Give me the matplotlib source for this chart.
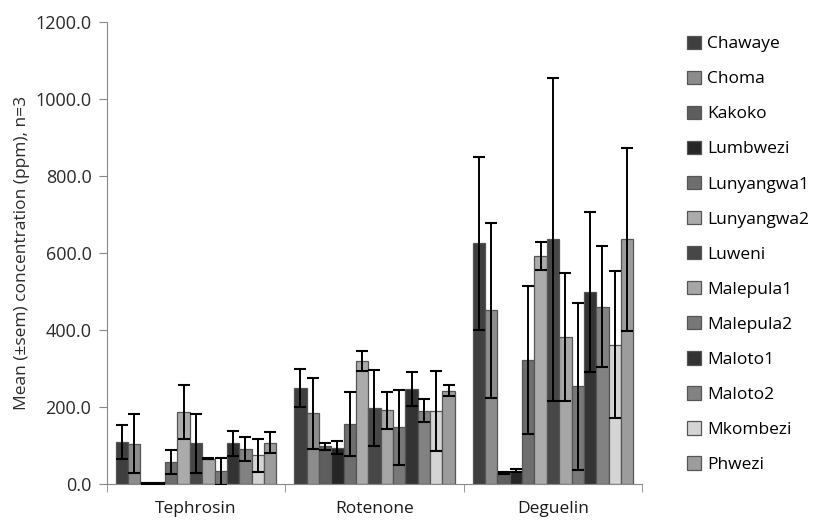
import matplotlib
matplotlib.use('Agg')
import matplotlib.pyplot as plt
import numpy as np

# data
compounds = ['Tephrosin', 'Rotenone', 'Deguelin']
sites = ['Chawaye', 'Choma', 'Kakoko', 'Lumbwezi', 'Lunyangwa1', 'Lunyangwa2',
         'Luweni', 'Malepula1', 'Malepula2', 'Maloto1', 'Maloto2', 'Mkombezi', 'Phwezi']

tephrosin = [110, 105, 2, 1, 58, 187, 106, 66, 33, 106, 91, 75, 108]
tephrosin_err = [44, 76, 1, 1, 31, 70, 77, 2, 35, 32, 32, 43, 28]

rotenone = [250, 184, 98, 95, 156, 319, 198, 192, 147, 247, 191, 190, 243]
rotenone_err = [50, 92, 10, 16, 84, 26, 99, 48, 98, 43, 29, 103, 15]

deguelin = [625, 451, 28, 35, 322, 593, 635, 382, 254, 498, 460, 362, 635]
deguelin_err = [224, 228, 3, 3, 192, 36, 420, 165, 217, 208, 157, 191, 237]

colors = ['#3f3f3f', '#8c8c8c', '#5e5e5e', '#262626', '#6e6e6e', '#ababab',
          '#474747', '#a6a6a6', '#787878', '#333333', '#828282', '#d4d4d4', '#9c9c9c']

plt.rcParams['font.family'] = ['Open Sans', 'DejaVu Sans']

fig = plt.figure(figsize=(8.15, 5.2), dpi=100)
ax = fig.add_axes([0.131, 0.069, 0.657, 0.889])

values = np.array([tephrosin, rotenone, deguelin])
errors = np.array([tephrosin_err, rotenone_err, deguelin_err])

n = len(sites)
gap = 1.45
width = 1.0 / (n + gap)
x = np.arange(len(compounds))

for i, site in enumerate(sites):
    pos = x - 0.5 + (gap / 2 + i + 0.5) * width
    ax.bar(pos, values[:, i], width, color=colors[i], edgecolor='#555555',
           linewidth=0.9, label=site, zorder=2)
    ax.errorbar(pos, values[:, i], yerr=errors[:, i], fmt='none', ecolor='black',
                elinewidth=1.4, capsize=4, capthick=1.5, zorder=3)

ax.set_xlim(-0.5, 2.5)
ax.set_ylim(0, 1200)
ax.set_yticks(np.arange(0, 1201, 200))
ax.set_yticklabels(['%.1f' % v for v in np.arange(0, 1201, 200)], fontsize=13, color='#2a2a2a')
ax.set_xticks(x)
ax.set_xticklabels(compounds, fontsize=12.5, color='#1a1a1a')
ax.set_xticks([-0.5, 0.5, 1.5, 2.5], minor=True)
ax.tick_params(axis='x', which='major', length=0, pad=12)
ax.tick_params(axis='x', which='minor', length=6, color='#888888', direction='out')
ax.tick_params(axis='y', length=6, color='#888888', direction='out', pad=5)
ax.set_ylabel('Mean (±sem) concentration (ppm), n=3', fontsize=12.5, color='#2a2a2a', labelpad=4)

for s in ['top', 'right']:
    ax.spines[s].set_visible(False)
for s in ['left', 'bottom']:
    ax.spines[s].set_color('#888888')

fig.legend(loc='upper left', bbox_to_anchor=(0.835, 0.945), frameon=False, fontsize=12.5,
           handlelength=0.8, handleheight=0.8, handletextpad=0.35, labelspacing=1.06,
           borderaxespad=0)

fig.savefig('out.png', dpi=100)
